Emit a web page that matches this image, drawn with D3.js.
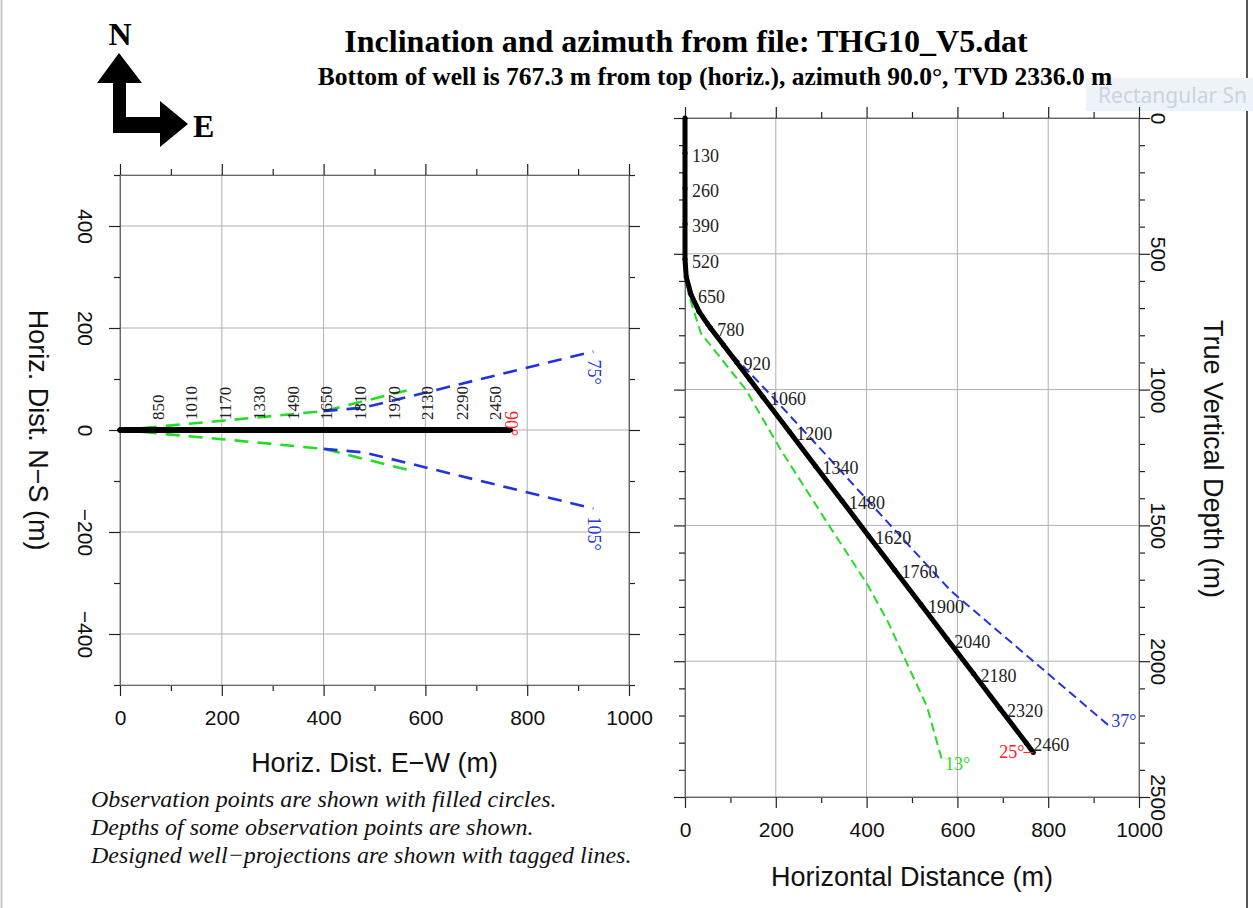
<!DOCTYPE html>
<html>
<head>
<meta charset="utf-8">
<script src="https://cdn.jsdelivr.net/npm/d3@7"></script>
<style>
  body { margin: 0; background: #fff; }
  svg { display: block; }
  .grid line { stroke: #b0b0b0; stroke-width: 1; }
  .frame { fill: none; stroke: #9a9a9a; stroke-width: 1; }
  .axis .domain { stroke: #666; }
  .axis .tick line { stroke: #222; stroke-width: 1.2; }
  .axis text { font-family: "Liberation Sans", Arial, sans-serif; font-size: 21px; fill: #111; }
  .axis-title { font-family: "Liberation Sans", Arial, sans-serif; font-size: 27px; fill: #111; }
  .depth-label { font-family: "Liberation Serif", "Times New Roman", serif; font-size: 18px; fill: #222; }
  .tag { font-family: "Liberation Serif", "Times New Roman", serif; font-size: 18px; }
  .title { font-family: "Liberation Serif", "Times New Roman", serif; font-weight: bold; fill: #000; }
  .note { font-family: "Liberation Serif", "Times New Roman", serif; font-style: italic; font-size: 24px; fill: #111; }
</style>
</head>
<body>
<div id="chart"></div>
<script>
const wellMd = [0, 130, 260, 390, 520, 585, 650, 715, 765, 780, 850, 920, 990, 1060, 1200, 1340, 1480, 1620, 1760, 1900, 2040, 2180, 2320, 2460, 2499];
const wellHoriz = [0, 0, 0, 0, 0, 2.7, 13, 30.8, 49.5, 55.7, 84.7, 113.7, 142.7, 171.7, 229.7, 287.7, 345.7, 403.7, 461.7, 519.7, 577.7, 635.7, 693.7, 751.7, 767.3];
const wellTvd = [0, 130, 260, 390, 520, 585, 649, 712, 758, 772, 836, 899, 963, 1027, 1154, 1282, 1409, 1537, 1664, 1791, 1919, 2046, 2174, 2301, 2336];
const wellAzimuth = 90;

// depths printed next to the section view
const sectionLabelMd = [130, 260, 390, 520, 650, 780, 920, 1060, 1200, 1340, 1480, 1620, 1760, 1900, 2040, 2180, 2320, 2460];

// depths printed above the plan view and their east offsets
const planLabelMd = [850, 1010, 1170, 1330, 1490, 1650, 1810, 1970, 2130, 2290, 2450];
const planLabelEast = [80, 146, 212, 279, 345, 411, 478, 544, 610, 677, 743];

// designed projections in the section view
const designBlueHoriz = [0, 0, 10, 40, 85, 138, 200, 283, 409, 535, 585, 620, 932];
const designBlueTvd = [0, 530, 640, 740, 840, 930, 1040, 1190, 1420, 1650, 1740, 1790, 2235];
const designGreenHoriz = [0, 0, 8, 35, 94, 134, 211, 314, 400, 445, 482, 533, 566];
const designGreenTvd = [0, 530, 650, 793, 916, 1000, 1222, 1492, 1713, 1848, 1983, 2167, 2364];

// designed projections in the plan view (upper / lower branch)
const planGreenEast = [0, 200, 400, 565];
const planGreenNorthUp = [0, 18, 37, 78];
const planGreenNorthDown = [0, -18, -37, -78];
const planBlueEast = [400, 480, 930];
const planBlueNorthUp = [37, 44, 154];
const planBlueNorthDown = [-37, -44, -154];

// tags
const wellTagSection = "25°";
const wellTagPlan = "90°";
const blueTagSection = "37°";
const greenTagSection = "13°";
const blueTagPlanUp = "75°";
const blueTagPlanDown = "105°";

// ticks
const planEastTicks = [0, 200, 400, 600, 800, 1000];
const planEastMinor = [100, 300, 500, 700, 900];
const planNorthTicks = [-400, -200, 0, 200, 400];
const planNorthMinor = [-500, -300, -100, 100, 300, 500];
const sectionHorizTicks = [0, 200, 400, 600, 800, 1000];
const sectionHorizMinor = [100, 300, 500, 700, 900];
const sectionTvdTicks = [0, 500, 1000, 1500, 2000, 2500];
const sectionTvdMinor = [100, 200, 300, 400, 600, 700, 800, 900, 1100, 1200, 1300, 1400, 1600, 1700, 1800, 1900, 2100, 2200, 2300, 2400];

const blue = "#2233dd";
const green = "#22dd22";
const red = "#ff2020";

const svg = d3.select("#chart").append("svg").attr("width", 1253).attr("height", 908);

// grid lines + gray box around a panel
function drawFrame(vis) {
  const [x0, x1] = vis.xScale.range();
  const yr = vis.yScale.range();
  const top = Math.min(...yr), bottom = Math.max(...yr);
  const grid = vis.g.append("g").attr("class", "grid");
  grid.selectAll("line.v").data(vis.config.xTicks).join("line")
    .attr("class", "v")
    .attr("x1", d => vis.xScale(d)).attr("x2", d => vis.xScale(d))
    .attr("y1", top).attr("y2", bottom);
  grid.selectAll("line.h").data(vis.config.yTicks).join("line")
    .attr("class", "h")
    .attr("x1", x0).attr("x2", x1)
    .attr("y1", d => vis.yScale(d)).attr("y2", d => vis.yScale(d));
  vis.g.append("rect").attr("class", "frame")
    .attr("x", x0).attr("y", top).attr("width", x1 - x0).attr("height", bottom - top);
}

// one axis with long major ticks and short minor ticks, all pointing out
function addAxis(vis, axisGen, scale, major, minor, x, y, labelled) {
  const g = vis.g.append("g").attr("class", "axis").attr("transform", `translate(${x},${y})`);
  g.append("g").call(axisGen(scale).tickValues(minor).tickSize(6).tickSizeOuter(0).tickFormat(""));
  const m = g.append("g").call(
    axisGen(scale).tickValues(major).tickSize(11).tickSizeOuter(0).tickPadding(14)
      .tickFormat(labelled ? d3.format("d") : "")
  );
  g.selectAll("g").attr("font-size", null).attr("font-family", null);
  return m;
}

class PlanView {
  constructor(_config) {
    this.config = {
      x: _config.x, y: _config.y,
      xTicks: planEastTicks, yTicks: planNorthTicks,
    };
    this.initVis();
  }

  initVis() {
    let vis = this;
    vis.g = svg.append("g").attr("class", "plan");
    vis.xScale = d3.scaleLinear().domain([0, 1000]).range(vis.config.x);
    vis.yScale = d3.scaleLinear().domain([-500, 500]).range(vis.config.y);

    drawFrame(vis);
    const [x0, x1] = vis.config.x;
    const [yB, yT] = vis.config.y;
    addAxis(vis, d3.axisBottom, vis.xScale, planEastTicks, planEastMinor, 0, yB, true);
    addAxis(vis, d3.axisTop, vis.xScale, planEastTicks, planEastMinor, 0, yT, false);
    addAxis(vis, d3.axisRight, vis.yScale, planNorthTicks, planNorthMinor, x1, 0, false);
    const left = addAxis(vis, d3.axisLeft, vis.yScale, planNorthTicks, planNorthMinor, x0, 0, true);
    left.selectAll("text")
      .attr("x", 0).attr("dy", null)
      .attr("text-anchor", "middle")
      .attr("transform", "translate(-42,0) rotate(90)");

    vis.g.append("text").attr("class", "axis-title")
      .attr("text-anchor", "middle")
      .attr("x", (x0 + x1) / 2).attr("y", 772)
      .text("Horiz. Dist. E\u2212W (m)");
    vis.g.append("text").attr("class", "axis-title")
      .attr("text-anchor", "middle")
      .attr("transform", `translate(29,${vis.yScale(0)}) rotate(90)`)
      .text("Horiz. Dist. N\u2212S (m)");

    vis.updateVis();
  }

  updateVis() {
    let vis = this;
    const az = (wellAzimuth * Math.PI) / 180;
    vis.wellPts = d3.zip(wellHoriz.map(h => h * Math.sin(az)), wellHoriz.map(h => h * Math.cos(az)));
    vis.line = d3.line().x(d => vis.xScale(d[0])).y(d => vis.yScale(d[1]));
    vis.renderVis();
  }

  renderVis() {
    let vis = this;
    const dash = "14,9";
    [planGreenNorthUp, planGreenNorthDown].forEach(n => {
      vis.g.append("path").datum(d3.zip(planGreenEast, n))
        .attr("d", vis.line).attr("fill", "none")
        .attr("stroke", green).attr("stroke-width", 2.6).attr("stroke-dasharray", dash);
    });
    [planBlueNorthUp, planBlueNorthDown].forEach(n => {
      vis.g.append("path").datum(d3.zip(planBlueEast, n))
        .attr("d", vis.line).attr("fill", "none")
        .attr("stroke", blue).attr("stroke-width", 2.6).attr("stroke-dasharray", dash);
    });

    vis.g.append("path").datum(vis.wellPts)
      .attr("d", vis.line).attr("fill", "none")
      .attr("stroke", "#000").attr("stroke-width", 6);
    vis.g.selectAll("circle.obs").data(vis.wellPts).join("circle")
      .attr("class", "obs")
      .attr("cx", d => vis.xScale(d[0])).attr("cy", d => vis.yScale(d[1]))
      .attr("r", 2.5).attr("fill", "#000");

    vis.g.selectAll("text.depth-label").data(planLabelMd).join("text")
      .attr("class", "depth-label")
      .style("font-size", "17px")
      .attr("transform", (d, i) => `translate(${vis.xScale(planLabelEast[i]) + 3},420) rotate(-90)`)
      .text(d => d);

    // tags at line ends
    const end = vis.wellPts[vis.wellPts.length - 1];
    vis.g.append("text").attr("class", "tag").attr("fill", red)
      .attr("transform", `translate(${vis.xScale(end[0]) - 6},${vis.yScale(end[1]) - 19}) rotate(90)`)
      .text(wellTagPlan);
    const bu = planBlueNorthUp.length - 1;
    vis.g.append("text").attr("class", "tag").attr("fill", blue)
      .attr("transform", `translate(${vis.xScale(planBlueEast[bu]) - 5},${vis.yScale(planBlueNorthUp[bu]) + 8}) rotate(90)`)
      .text(blueTagPlanUp);
    vis.g.append("text").attr("class", "tag").attr("fill", blue)
      .attr("transform", `translate(${vis.xScale(planBlueEast[bu]) - 5},${vis.yScale(planBlueNorthDown[bu]) + 8}) rotate(90)`)
      .text(blueTagPlanDown);
  }
}

class SectionView {
  constructor(_config) {
    this.config = {
      x: _config.x, y: _config.y,
      xTicks: sectionHorizTicks, yTicks: sectionTvdTicks,
    };
    this.initVis();
  }

  initVis() {
    let vis = this;
    vis.g = svg.append("g").attr("class", "section");
    vis.xScale = d3.scaleLinear().domain([0, 1000]).range(vis.config.x);
    vis.yScale = d3.scaleLinear().domain([0, 2500]).range(vis.config.y);

    drawFrame(vis);
    const [x0, x1] = vis.config.x;
    const [yT, yB] = vis.config.y;
    addAxis(vis, d3.axisBottom, vis.xScale, sectionHorizTicks, sectionHorizMinor, 0, yB, true);
    addAxis(vis, d3.axisTop, vis.xScale, sectionHorizTicks, sectionHorizMinor, 0, yT, false);
    addAxis(vis, d3.axisLeft, vis.yScale, sectionTvdTicks, sectionTvdMinor, x0, 0, false);
    const right = addAxis(vis, d3.axisRight, vis.yScale, sectionTvdTicks, sectionTvdMinor, x1, 0, true);
    right.selectAll("text")
      .attr("x", 0).attr("dy", null)
      .attr("text-anchor", "middle")
      .attr("transform", "translate(12,0) rotate(90)");

    vis.g.append("text").attr("class", "axis-title")
      .attr("text-anchor", "middle")
      .attr("x", (x0 + x1) / 2).attr("y", 886)
      .text("Horizontal Distance (m)");
    vis.g.append("text").attr("class", "axis-title")
      .attr("text-anchor", "middle")
      .attr("transform", `translate(1204,459) rotate(90)`)
      .text("True Vertical Depth (m)");

    vis.updateVis();
  }

  updateVis() {
    let vis = this;
    vis.wellPts = d3.zip(wellHoriz, wellTvd);
    vis.line = d3.line().x(d => vis.xScale(d[0])).y(d => vis.yScale(d[1]));
    vis.renderVis();
  }

  renderVis() {
    let vis = this;
    const dash = "9,5";
    vis.g.append("path").datum(d3.zip(designGreenHoriz, designGreenTvd))
      .attr("d", vis.line).attr("fill", "none")
      .attr("stroke", green).attr("stroke-width", 2).attr("stroke-dasharray", dash);
    vis.g.append("path").datum(d3.zip(designBlueHoriz, designBlueTvd))
      .attr("d", vis.line).attr("fill", "none")
      .attr("stroke", blue).attr("stroke-width", 2).attr("stroke-dasharray", dash);

    vis.g.append("path").datum(vis.wellPts)
      .attr("d", vis.line).attr("fill", "none")
      .attr("stroke", "#000").attr("stroke-width", 5).attr("stroke-linejoin", "round");
    vis.g.selectAll("circle.obs").data(vis.wellPts).join("circle")
      .attr("class", "obs")
      .attr("cx", d => vis.xScale(d[0])).attr("cy", d => vis.yScale(d[1]))
      .attr("r", 2.5).attr("fill", "#000");

    vis.g.selectAll("text.depth-label").data(sectionLabelMd).join("text")
      .attr("class", "depth-label")
      .attr("x", d => vis.xScale(wellHoriz[wellMd.indexOf(d)]) + 7)
      .attr("y", d => vis.yScale(wellTvd[wellMd.indexOf(d)]) + 2)
      .attr("dy", "0.35em")
      .text(d => d);

    const end = vis.wellPts[vis.wellPts.length - 1];
    const ex = vis.xScale(end[0]), ey = vis.yScale(end[1]);
    vis.g.append("line").attr("x1", ex - 10).attr("x2", ex).attr("y1", ey).attr("y2", ey)
      .attr("stroke", red).attr("stroke-width", 1);
    vis.g.append("text").attr("class", "tag").attr("fill", red)
      .attr("text-anchor", "end").attr("x", ex - 9).attr("y", ey + 6)
      .text(wellTagSection);

    const b = designBlueHoriz.length - 1;
    vis.g.append("text").attr("class", "tag").attr("fill", blue)
      .attr("x", vis.xScale(designBlueHoriz[b]) + 3).attr("y", vis.yScale(designBlueTvd[b]) + 2)
      .text(blueTagSection);
    const gi = designGreenHoriz.length - 1;
    vis.g.append("text").attr("class", "tag").attr("fill", green)
      .attr("x", vis.xScale(designGreenHoriz[gi]) + 3).attr("y", vis.yScale(designGreenTvd[gi]) + 10)
      .text(greenTagSection);
  }
}

// window border and the snipping tool hint at top right
svg.append("line").attr("x1", 1.5).attr("x2", 1.5).attr("y1", 0).attr("y2", 908).attr("stroke", "#c8c8c8").attr("stroke-width", 2);
svg.append("line").attr("x1", 1247).attr("x2", 1247).attr("y1", 0).attr("y2", 908).attr("stroke", "#555").attr("stroke-width", 2);
svg.append("rect").attr("x", 1086).attr("y", 78).attr("width", 167).attr("height", 33).attr("fill", "#eef3fa");
svg.append("text").attr("x", 1098).attr("y", 103)
  .attr("font-family", "'Noto Sans', sans-serif").attr("font-size", 21).attr("fill", "#cbd4de")
  .text("Rectangular Sn");

// titles
svg.append("text").attr("class", "title").attr("font-size", 32)
  .attr("text-anchor", "middle").attr("x", 686).attr("y", 52)
  .text("Inclination and azimuth from file: THG10_V5.dat");
svg.append("text").attr("class", "title").attr("font-size", 25.5)
  .attr("text-anchor", "middle").attr("x", 715).attr("y", 85)
  .text("Bottom of well is 767.3 m from top (horiz.), azimuth 90.0°, TVD 2336.0 m");

// north / east arrow
svg.append("path")
  .attr("d", "M97,83 L119,53 L142,83 L126,83 L126,117 L160,117 L160,101 L188,124 L160,147 L160,133 L113,133 L113,83 Z")
  .attr("fill", "#000");
svg.append("text").attr("class", "title").attr("font-size", 32)
  .attr("text-anchor", "middle").attr("x", 120).attr("y", 45).text("N");
svg.append("text").attr("class", "title").attr("font-size", 32)
  .attr("x", 193).attr("y", 137).text("E");

const planView = new PlanView({ x: [120, 629], y: [685, 175] });
const sectionView = new SectionView({ x: [685, 1139], y: [118, 797] });

// notes under the plan view
const notes = [
  "Observation points are shown with filled circles.",
  "Depths of some observation points are shown.",
  "Designed well\u2212projections are shown with tagged lines.",
];
svg.selectAll("text.note").data(notes).join("text")
  .attr("class", "note")
  .attr("x", 91)
  .attr("y", (d, i) => 807 + i * 28)
  .text(d => d);
</script>
</body>
</html>
